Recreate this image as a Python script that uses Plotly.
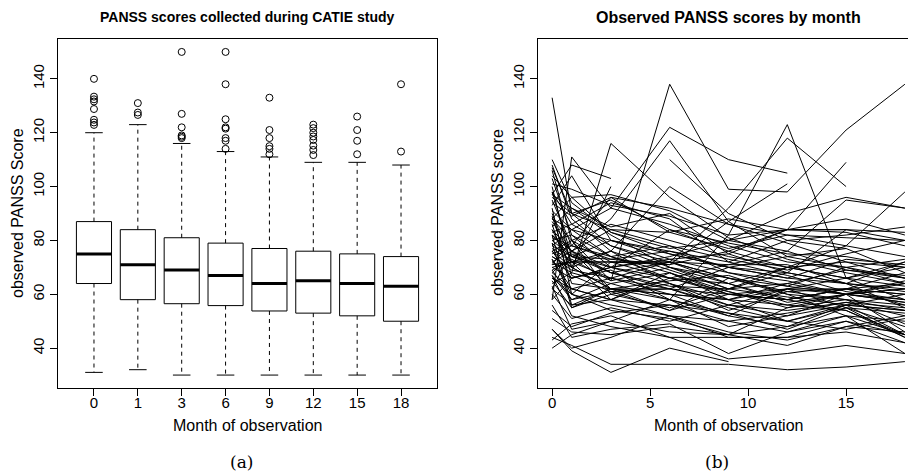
import plotly.graph_objects as go

# Page is rendered with an 8px body margin, so the figure is 8px smaller each way
OFF = 8
W, H = 916 - OFF, 473 - OFF

# ---------------- Panel (a): boxplot summary ----------------
months = ["0", "1", "3", "6", "9", "12", "15", "18"]
lower_whisker = [31, 32, 30, 30, 30, 30, 30, 30]
q1 = [64, 58, 56.5, 55.8, 53.8, 53, 52, 50]
median = [75, 71, 69, 67, 64, 65, 64, 63]
q3 = [87, 84, 81, 79, 77, 76, 75, 74]
upper_whisker = [120, 123, 116, 113, 111, 109, 109, 108]
outliers = [
    [140, 133.4, 132.4, 131.6, 128.8, 124.8, 123.8, 122.9],
    [131, 127.5, 126.6],
    [150, 127, 122, 119, 118.5, 118],
    [150, 138, 125, 122, 121.5, 118, 117, 114],
    [133, 121, 118, 115, 114, 112],
    [123, 121.7, 120, 118.6, 117.3, 115.2, 113.6, 111.7],
    [126, 121, 117, 112],
    [138, 113],
]

# ---------------- Panel (b): individual trajectories ----------------
obs_months = [0, 1, 3, 6, 9, 12, 15, 18]
N = None
subject_scores = [
    [76, 80, 65, 138, 99, 98, 121, 138],
    [133, 90, 78, 72, 66, N, N, N],
    [88, 84, 92, 122, 110, 105, N, N],
    [82, 76, 88, 117, 87, 74, 70, 66],
    [N, N, N, 110, 90, 80, 77, N],
    [72, 68, 116, 96, 81, 73, 68, 64],
    [58, 111, 92, 86, 78, 72, 70, 73],
    [97, 108, 103, N, N, N, N, N],
    [74, 70, 100, N, N, N, N, N],
    [79, 72, 76, 100, 86, 79, 72, 66],
    [70, 66, 69, 58, 82, 123, 66, 58],
    [68, 62, 66, 72, 92, 118, 100, N],
    [66, 60, 72, 71, 76, 84, 109, N],
    [80, 74, 70, 74, 80, 90, 96, 92],
    [84, 76, 68, 63, 62, 70, 78, 98],
    [82, 74, 73, 71, 87, 101, N, N],
    [44, 41, 34, 34, 34, 32, 33, 35],
    [47, 39, 31, 40, 35, N, N, N],
    [104, 96, 97, 91, 80, 76, 95, 92],
    [110, 94, 83, 75, 70, 68, 64, 62],
    [108, 88, 76, 69, 62, 59, 56, 54],
    [106, 80, 72, 66, 60, 58, 62, 60],
    [100, 70, 62, 60, 58, 56, 54, 44],
    [98, 86, 94, 88, 72, 67, 61, 58],
    [95, 78, 74, 78, 68, 65, 60, 46],
    [92, 60, 56, 52, 50, 53, 57, 52],
    [90, 72, 66, 62, 55, 50, 56, 60],
    [88, 80, 86, 80, 74, 70, 72, 70],
    [86, 64, 62, 58, 53, 47, 55, 44],
    [85, 92, 82, 70, 66, 61, 58, 56],
    [84, 70, 62, 62, 60, 62, 62, 64],
    [83, 86, 78, 70, 62, 64, 60, 62],
    [82, 56, 58, 56, 50, 46, 52, 50],
    [80, 82, 74, 68, 61, 55, 60, 57],
    [79, 55, 60, 64, 58, 50, 55, 48],
    [78, 74, 80, 75, 70, 66, 64, 72],
    [77, 72, 58, 52, 44, 44, 46, 42],
    [76, 66, 70, 66, 64, 70, 66, 70],
    [75, 78, 73, 76, 72, 80, 82, 85],
    [74, 69, 66, 60, 58, 62, 60, 64],
    [73, 60, 54, 51, 45, 48, 56, 45],
    [72, 76, 62, 65, 67, 60, 58, 54],
    [71, 72, 72, 72, 71, 71, 64, 55],
    [70, 72, 72, 72, 66, 63, 60, 65],
    [69, 58, 61, 62, 56, 54, 57, 55],
    [68, 75, 68, 62, 70, 66, 73, 71],
    [67, 52, 48, 44, 44, 44, 50, 42],
    [66, 62, 58, 66, 61, 56, 60, 62],
    [65, 55, 62, 60, 52, 48, 52, 38],
    [64, 68, 64, 58, 48, 52, 60, 57],
    [63, 47, 50, 46, 45, 41, 48, 46],
    [62, 56, 62, 54, 60, 58, 62, 60],
    [60, 51, 55, 50, 56, 52, 56, 54],
    [56, 44, 47, 49, 38, 46, 50, 45],
    [54, 48, 53, 56, 53, 50, 47, 51],
    [51, 46, 45, 48, 45, 55, 58, 49],
    [47, 40, 44, 52, 46, 43, 48, 52],
    [43, 49, 52, 44, 36, 38, 41, 38],
    [40, 45, 50, 58, 52, 62, 55, 53],
    [101, 99, 93, 89, 82, 84, 88, 82],
    [97, 92, 85, 90, 75, 68, 84, 80],
    [94, 89, 96, 92, 86, 82, 78, 74],
    [91, 84, 80, 76, 70, 74, 77, 68],
    [89, 67, 61, 54, 66, 60, 52, 45],
    [87, 76, 70, 84, 79, 75, 74, 70],
    [81, 78, 96, 83, 77, 82, 81, 80],
    [78, 84, 74, 66, 71, 76, 69, 66],
    [76, 70, 76, 64, 54, 61, 62, 68],
    [73, 62, 58, 68, 60, 58, 54, 45],
    [71, 80, 60, 55, 62, 68, 64, 61],
    [69, 73, 65, 70, 64, 58, 62, 56],
    [67, 58, 64, 68, 58, 64, 69, 67],
    [98, 74, 68, 72, 64, 57, 60, 58],
    [93, 104, 80, 73, 68, 63, 70, 64],
    [107, 90, 95, 84, 76, 70, 66, 63],
    [103, 82, 70, 64, 56, 62, 66, 72],
    [96, 90, 84, 83, 88, 84, 83, 78],
    [62, 76, 84, 78, 73, 69, 75, 80],
    [58, 66, 70, 73, 75, 84, 84, 83],
    [88, 96, 83, 77, 80, 84, 84, N],
]

FONT = "Liberation Sans, Arial, Helvetica, sans-serif"
SERIF = "DejaVu Serif, Liberation Serif, serif"
BLACK = "#000000"

fig = go.Figure()

# ---- build boxplot from stats ----
box_half = 0.4
cap_half = 0.2
bx, by, mx, my, wx, wy, cx, cy, ox, oy = [], [], [], [], [], [], [], [], [], []
for i in range(len(months)):
    p = i + 1
    bx += [p - box_half, p + box_half, p + box_half, p - box_half, p - box_half, None]
    by += [q1[i], q1[i], q3[i], q3[i], q1[i], None]
    mx += [p - box_half, p + box_half, None]
    my += [median[i], median[i], None]
    wx += [p, p, None, p, p, None]
    wy += [q3[i], upper_whisker[i], None, q1[i], lower_whisker[i], None]
    cx += [p - cap_half, p + cap_half, None, p - cap_half, p + cap_half, None]
    cy += [upper_whisker[i], upper_whisker[i], None, lower_whisker[i], lower_whisker[i], None]
    for v in outliers[i]:
        ox.append(p)
        oy.append(v)

fig.add_trace(go.Scatter(x=wx, y=wy, mode="lines", line=dict(color=BLACK, width=1, dash="4px,4px"),
                         xaxis="x", yaxis="y", hoverinfo="skip", showlegend=False))
fig.add_trace(go.Scatter(x=cx, y=cy, mode="lines", line=dict(color=BLACK, width=1),
                         xaxis="x", yaxis="y", hoverinfo="skip", showlegend=False))
fig.add_trace(go.Scatter(x=bx, y=by, mode="lines", line=dict(color=BLACK, width=1),
                         xaxis="x", yaxis="y", hoverinfo="skip", showlegend=False))
fig.add_trace(go.Scatter(x=mx, y=my, mode="lines", line=dict(color=BLACK, width=3),
                         xaxis="x", yaxis="y", hoverinfo="skip", showlegend=False))
fig.add_trace(go.Scatter(x=ox, y=oy, mode="markers",
                         marker=dict(symbol="circle-open", size=7, color=BLACK, line=dict(width=1, color=BLACK)),
                         xaxis="x", yaxis="y", hoverinfo="skip", showlegend=False))

# ---- spaghetti ----
for row in subject_scores:
    fig.add_trace(go.Scatter(x=obs_months, y=row, mode="lines", connectgaps=False,
                             line=dict(color=BLACK, width=1),
                             xaxis="x2", yaxis="y2", hoverinfo="skip", showlegend=False))

def px_x(p):
    return (p - OFF) / W

def px_y(p):
    return 1 - (p - OFF) / H

ydom = [px_y(388), px_y(39)]
axis_common = dict(showgrid=False, zeroline=False, ticks="outside", ticklen=7, tickwidth=1,
                   tickcolor=BLACK, linecolor=BLACK, linewidth=1, showline=True,
                   tickfont=dict(family=FONT, size=15, color=BLACK))

# right panel: data range -0.72..18.72 spans 538..919 px; window ends at 916
x2_right = -0.72 + (916 - 538) / ((919 - 538) / 19.44)

fig.update_layout(
    width=W, height=H,
    margin=dict(l=0, r=0, t=0, b=0),
    paper_bgcolor="white", plot_bgcolor="white",
    showlegend=False,
    xaxis=dict(domain=[px_x(58), px_x(437)], range=[0.18, 8.82], mirror=True,
               tickvals=list(range(1, len(months) + 1)), ticktext=months, anchor="y",
               ticklabelstandoff=-6, **axis_common),
    yaxis=dict(domain=ydom, range=[25.2, 154.8], mirror=True, tickangle=-90,
               tickvals=[40, 60, 80, 100, 120, 140], anchor="x", **axis_common),
    xaxis2=dict(domain=[px_x(538), 1.0], range=[-0.72, x2_right], mirror=True,
                tickvals=[0, 5, 10, 15], anchor="y2", ticklabelstandoff=-6, **axis_common),
    yaxis2=dict(domain=ydom, range=[25.2, 154.8], mirror=False, tickangle=-90,
                tickvals=[40, 60, 80, 100, 120, 140], anchor="x2", **axis_common),
)

ann = []
def add_text(text, x, y, size, bold=False, angle=0, family=FONT):
    ann.append(dict(text=("<b>%s</b>" % text) if bold else text, x=px_x(x), y=px_y(y),
                    xref="paper", yref="paper", showarrow=False, textangle=angle,
                    xanchor="center", yanchor="middle",
                    font=dict(family=family, size=size, color=BLACK)))

add_text("PANSS scores collected during CATIE study", 247, 17, 14, bold=True)
add_text("Observed PANSS scores by month", 728, 18, 16, bold=True)
add_text("Month of observation", 247, 425, 16)
add_text("Month of observation", 728, 425, 16)
add_text("observed PANSS Score", 17, 213, 16, angle=-90)
add_text("observed PANSS score", 497, 213, 16, angle=-90)
add_text("(a)", 241, 462, 17, family=SERIF)
add_text("(b)", 717, 462, 17, family=SERIF)
fig.update_layout(annotations=ann)

fig.write_html("out.html")
